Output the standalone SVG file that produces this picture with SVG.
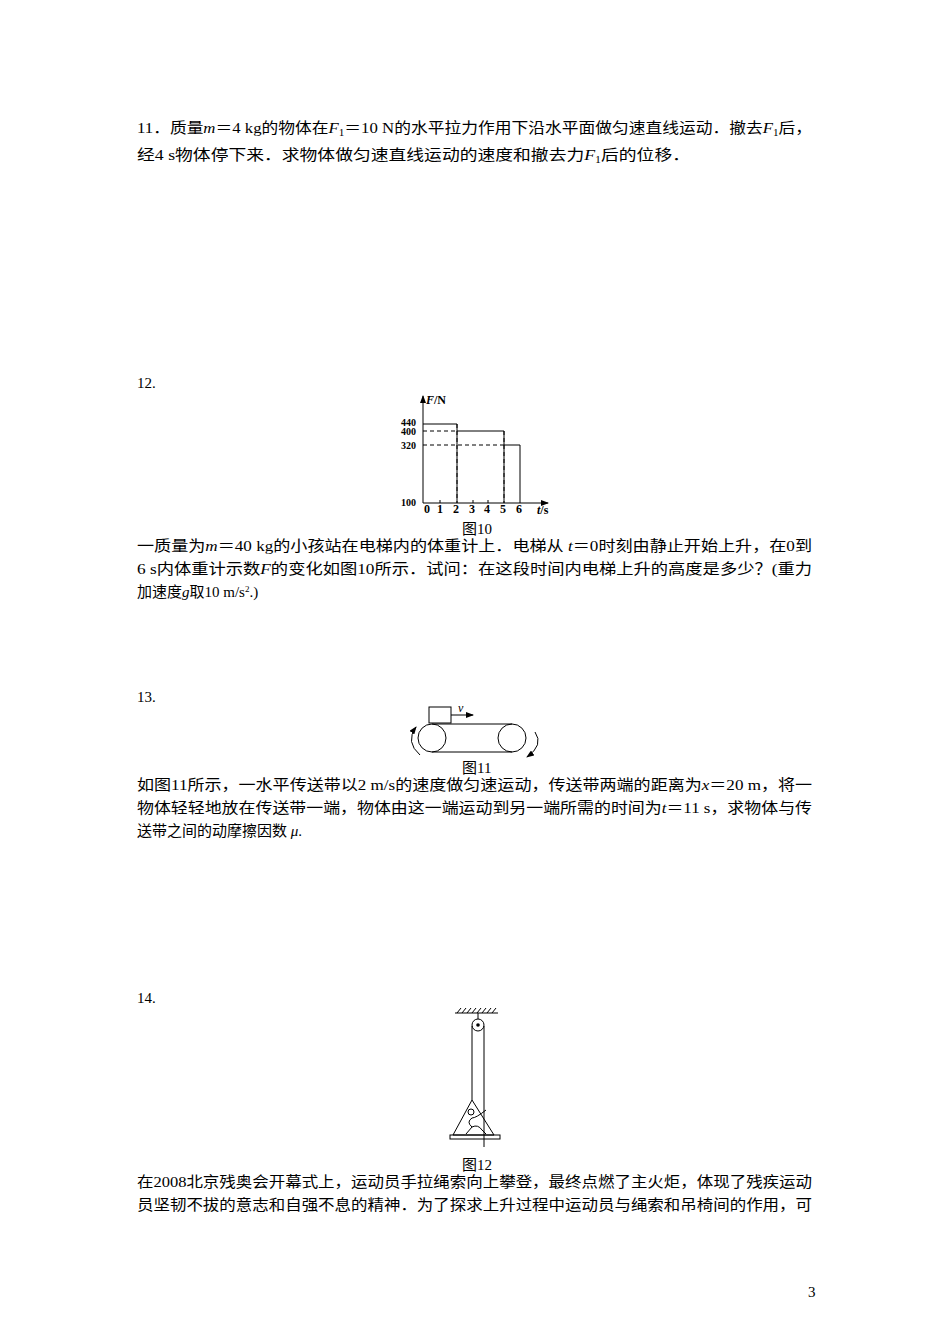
<svg xmlns="http://www.w3.org/2000/svg" width="950" height="1344" viewBox="0 0 950 1344">
<style>
text{font-family:"Liberation Serif","Noto Sans CJK SC",serif;font-size:15px;fill:#000}
.s{font-size:12px}
.y{font-size:10px}
.l{stroke:#000;stroke-width:1;fill:none}
.d{stroke:#000;stroke-width:1;fill:none;stroke-dasharray:4,3}
</style>
<defs><marker id="a" markerWidth="8" markerHeight="6" refX="7" refY="3" orient="auto"><path d="M0,0L8,3L0,6z" fill="#000"/></marker></defs>
<rect width="950" height="1344" fill="#fff"/>
<g id="q11">
<text x="137" y="133" textLength="675" lengthAdjust="spacingAndGlyphs">11．质量<tspan font-style="italic">m</tspan>＝4 kg的物体在<tspan font-style="italic">F</tspan><tspan font-size="10" dy="3">1</tspan><tspan dy="-3">＝10 N的水平拉力作用下沿水平面做匀速直线运动．撤去</tspan><tspan font-style="italic">F</tspan><tspan font-size="10" dy="3">1</tspan><tspan dy="-3">后，</tspan></text>
<text x="137" y="160" textLength="553" lengthAdjust="spacingAndGlyphs">经4 s物体停下来．求物体做匀速直线运动的速度和撤去力<tspan font-style="italic">F</tspan><tspan font-size="10" dy="3">1</tspan><tspan dy="-3">后的位移．</tspan></text>
</g>
<g id="q12">
<text x="137" y="388">12.</text>
<g id="graph">
<line class="l" x1="423" y1="503" x2="423" y2="396" marker-end="url(#a)"/>
<line class="l" x1="423" y1="503" x2="548" y2="503" marker-end="url(#a)"/>
<polyline class="l" points="423,424 457,424 457,503"/>
<polyline class="l" points="457,431 504,431 504,503"/>
<polyline class="l" points="504,445 520,445 520,503"/>
<line class="d" x1="423" y1="431" x2="457" y2="431"/>
<line class="d" x1="423" y1="445" x2="504" y2="445"/>
<line class="d" x1="457" y1="424" x2="457" y2="503"/>
<line class="d" x1="504" y1="431" x2="504" y2="503"/>
<line class="l" x1="440" y1="500" x2="440" y2="503"/><line class="l" x1="473" y1="500" x2="473" y2="503"/><line class="l" x1="488" y1="500" x2="488" y2="503"/>
<text class="s" x="426" y="404" font-weight="bold"><tspan font-style="italic">F</tspan>/N</text>
<text class="y" x="401" y="426" font-weight="bold">440</text><text class="y" x="401" y="435" font-weight="bold">400</text><text class="y" x="401" y="449" font-weight="bold">320</text><text class="y" x="401" y="506" font-weight="bold">100</text>
<text class="s" x="424" y="513" font-weight="bold">0</text><text class="s" x="437" y="513" font-weight="bold">1</text><text class="s" x="453" y="513" font-weight="bold">2</text><text class="s" x="469" y="513" font-weight="bold">3</text><text class="s" x="484" y="513" font-weight="bold">4</text><text class="s" x="500" y="513" font-weight="bold">5</text><text class="s" x="516" y="513" font-weight="bold">6</text>
<text class="s" x="537" y="514" font-weight="bold"><tspan font-style="italic">t</tspan>/s</text>
</g>
<text x="462" y="534">图10</text>
<text x="137" y="551" textLength="675" lengthAdjust="spacingAndGlyphs">一质量为<tspan font-style="italic">m</tspan>＝40 kg的小孩站在电梯内的体重计上．电梯从 <tspan font-style="italic">t</tspan>＝0时刻由静止开始上升，在0到</text>
<text x="137" y="574" textLength="675" lengthAdjust="spacingAndGlyphs">6 s内体重计示数<tspan font-style="italic">F</tspan>的变化如图10所示．试问：在这段时间内电梯上升的高度是多少？(重力</text>
<text x="137" y="597">加速度<tspan font-style="italic">g</tspan>取10 m/s<tspan font-size="9" dy="-5">2</tspan><tspan dy="5">.)</tspan></text>
</g>
<g id="q13">
<text x="137" y="702">13.</text>
<g id="belt">
<rect class="l" x="429" y="707" width="22" height="16"/>
<line class="l" x1="451" y1="715" x2="473" y2="715" marker-end="url(#a)"/>
<text class="s" x="458" y="712" font-style="italic">v</text>
<circle class="l" cx="432" cy="738" r="14"/><circle class="l" cx="512" cy="738" r="14"/>
<line class="l" x1="432" y1="724" x2="512" y2="724"/><line class="l" x1="432" y1="752" x2="512" y2="752"/>
<path class="l" d="M420,755 Q405,742 416,727" marker-end="url(#a)"/>
<path class="l" d="M535,732 Q544,745 527,757" marker-end="url(#a)"/>
</g>
<text x="462" y="773">图11</text>
<text x="137" y="790" textLength="675" lengthAdjust="spacingAndGlyphs">如图11所示，一水平传送带以2 m/s的速度做匀速运动，传送带两端的距离为<tspan font-style="italic">x</tspan>＝20 m，将一</text>
<text x="137" y="813" textLength="675" lengthAdjust="spacingAndGlyphs">物体轻轻地放在传送带一端，物体由这一端运动到另一端所需的时间为<tspan font-style="italic">t</tspan>＝11 s，求物体与传</text>
<text x="137" y="836">送带之间的动摩擦因数 <tspan font-style="italic">μ</tspan>.</text>
</g>
<g id="q14">
<text x="137" y="1003">14.</text>
<g id="rope">
<line class="l" x1="455" y1="1013" x2="498" y2="1013"/>
<path class="l" d="M457,1013l4,-5M462,1013l4,-5M467,1013l4,-5M472,1013l4,-5M477,1013l4,-5M482,1013l4,-5M487,1013l4,-5M492,1013l4,-5"/>
<line class="l" x1="478" y1="1013" x2="478" y2="1019"/>
<circle class="l" cx="478" cy="1025" r="6"/><circle cx="478" cy="1025" r="1.8" fill="#000"/>
<line class="l" x1="472" y1="1026" x2="472" y2="1100"/>
<line class="l" x1="484" y1="1026" x2="484" y2="1147"/>
<polygon class="l" points="472,1100 453,1135 494,1135"/>
<rect class="l" x="450" y="1135" width="50" height="4"/>
<circle class="l" cx="471" cy="1112" r="3"/>
<path class="l" d="M486,1110 Q476,1118 472,1118 Q466,1122 472,1127 L466,1134 M472,1127 Q478,1124 482,1130 L486,1134"/>
</g>
<text x="462" y="1170">图12</text>
<text x="137" y="1187" textLength="675" lengthAdjust="spacingAndGlyphs">在2008北京残奥会开幕式上，运动员手拉绳索向上攀登，最终点燃了主火炬，体现了残疾运动</text>
<text x="137" y="1210" textLength="675" lengthAdjust="spacingAndGlyphs">员坚韧不拔的意志和自强不息的精神．为了探求上升过程中运动员与绳索和吊椅间的作用，可</text>
</g>
<text x="808" y="1297" font-family="Liberation Sans,sans-serif" font-size="13">3</text>
</svg>
